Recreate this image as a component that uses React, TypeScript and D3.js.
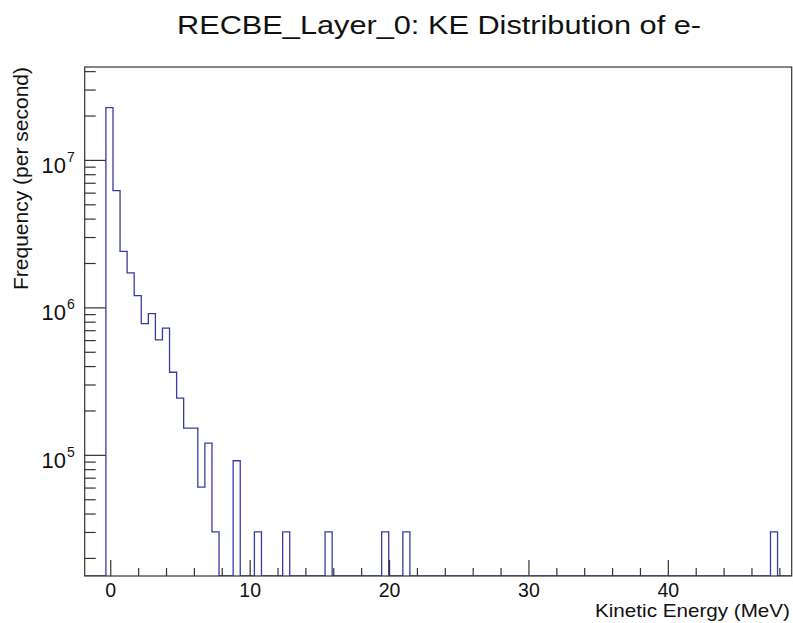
import React from "react";
import * as d3 from "d3";

// ---- data ----
const NBINS = 100;
const X_MIN = -1.87;
const X_MAX = 48.85;
const filledBins = [3, 4, 5, 6, 7, 8, 9, 10, 11, 12, 13, 14, 15, 16, 17, 18, 21, 24, 28, 34, 42, 45, 97];
const frequency = [
  2.28e7, 6.24e6, 2.42e6, 1.73e6, 1.21e6, 7.83e5, 9.14e5, 6.07e5, 7.28e5, 3.66e5,
  2.44e5, 1.53e5, 1.53e5, 6.08e4, 1.21e5, 3.03e4, 9.19e4, 3.03e4, 3.03e4, 3.03e4,
  3.03e4, 3.03e4, 3.03e4,
];
const Y_MIN = 1.52e4;
const Y_MAX = 4.3e7;
const xMajorTicks = [0, 10, 20, 30, 40];
const yMajorExponents = [5, 6, 7];

const TITLE = "RECBE_Layer_0: KE Distribution of e-";
const X_LABEL = "Kinetic Energy (MeV)";
const Y_LABEL = "Frequency (per second)";

// ---- layout ----
const W = 793;
const H = 623;
const FL = 84.7;
const FR = 791.7;
const FT = 67;
const FB = 576;
const FONT = "'Liberation Sans', Arial, Helvetica, sans-serif";
const HIST_COLOR = "#3a3aa6";
const AXIS_COLOR = "#333";

export default function App() {
  const x = d3.scaleLinear().domain([X_MIN, X_MAX]).range([FL, FR]);
  const y = d3.scaleLog().domain([Y_MIN, Y_MAX]).range([FB, FT]);
  const binW = (X_MAX - X_MIN) / NBINS;

  const values: number[] = new Array(NBINS).fill(0);
  filledBins.forEach((b, i) => (values[b] = frequency[i]));

  const pts: [number, number][] = [];
  pts.push([x(X_MIN), FB]);
  for (let i = 0; i < NBINS; i++) {
    const v = values[i];
    const yy = v > 0 ? y(v) : FB;
    pts.push([x(X_MIN + i * binW), yy]);
    pts.push([x(X_MIN + (i + 1) * binW), yy]);
  }
  pts.push([x(X_MAX), FB]);
  const line = d3.line();
  const histPath = line(pts) || "";

  const xMinor = d3.range(0, 49, 2).filter((t) => t >= X_MIN && t <= X_MAX && !xMajorTicks.includes(t));

  const yMinor: number[] = [];
  for (let e = 4; e <= 7; e++) {
    for (let k = 2; k <= 9; k++) {
      const v = k * Math.pow(10, e);
      if (v >= Y_MIN && v <= Y_MAX) yMinor.push(v);
    }
  }

  return (
    <svg
      width={W}
      height={H}
      style={{ position: "absolute", left: 0, top: 0, background: "#fff" }}
      fontFamily={FONT}
    >
      <rect x={0} y={0} width={W} height={H} fill="#fff" />
      <defs>
        <clipPath id="frameClip">
          <rect x={FL} y={FT} width={FR - FL} height={FB - FT} />
        </clipPath>
      </defs>

      <path d={histPath} fill="none" stroke={HIST_COLOR} strokeWidth={1.3} clipPath="url(#frameClip)" />

      <rect x={FL} y={FT} width={FR - FL} height={FB - FT} fill="none" stroke={AXIS_COLOR} strokeWidth={1.2} />

      {xMajorTicks.map((t) => (
        <g key={"xm" + t}>
          <line x1={x(t)} x2={x(t)} y1={FB} y2={FB - 16} stroke={AXIS_COLOR} strokeWidth={1.2} />
          <text x={x(t)} y={597} fontSize={19.5} textAnchor="middle" fill="#111">
            {t}
          </text>
        </g>
      ))}
      {xMinor.map((t) => (
        <line key={"xn" + t} x1={x(t)} x2={x(t)} y1={FB} y2={FB - 8} stroke={AXIS_COLOR} strokeWidth={1.2} />
      ))}

      {yMajorExponents.map((e) => {
        const yy = y(Math.pow(10, e));
        return (
          <g key={"ym" + e}>
            <line x1={FL} x2={FL + 21} y1={yy} y2={yy} stroke={AXIS_COLOR} strokeWidth={1.2} />
            <text x={66} y={yy + 12.5} fontSize={22} textAnchor="end" fill="#111">
              10
            </text>
            <text x={67} y={yy + 1.5} fontSize={14} textAnchor="start" fill="#111">
              {e}
            </text>
          </g>
        );
      })}
      {yMinor.map((v, i) => (
        <line key={"yn" + i} x1={FL} x2={FL + 11} y1={y(v)} y2={y(v)} stroke={AXIS_COLOR} strokeWidth={1.2} />
      ))}

      <text x={177} y={34} fontSize={26.5} fill="#111" textLength={524} lengthAdjust="spacingAndGlyphs">
        {TITLE}
      </text>

      <text x={595} y={617} fontSize={18.5} fill="#111" textLength={195} lengthAdjust="spacingAndGlyphs">
        {X_LABEL}
      </text>

      <text
        transform={`translate(28, 290) rotate(-90)`}
        fontSize={21}
        fill="#111"
        textLength={223}
        lengthAdjust="spacingAndGlyphs"
      >
        {Y_LABEL}
      </text>
    </svg>
  );
}
